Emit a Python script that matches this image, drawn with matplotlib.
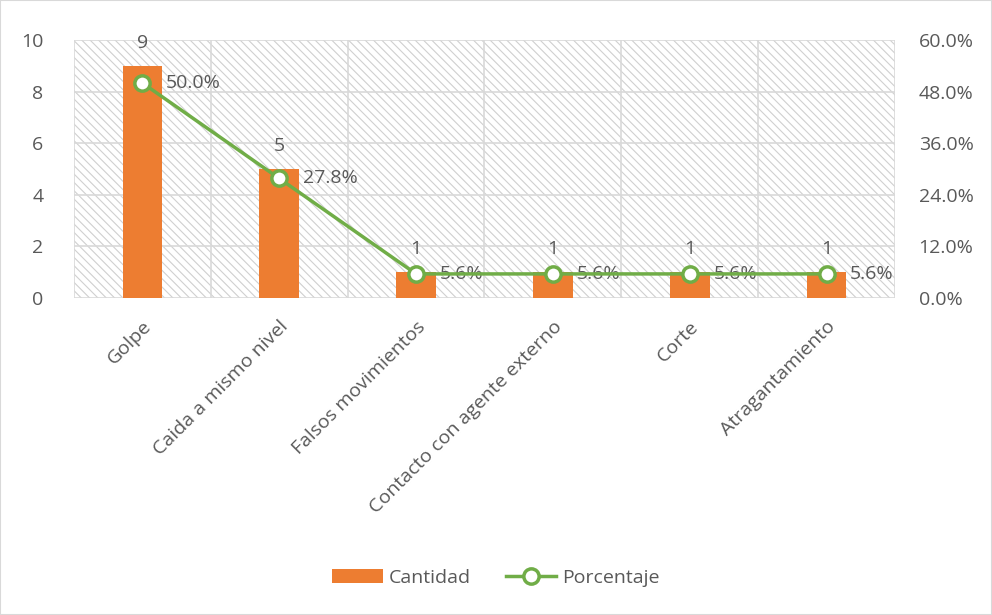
import matplotlib.pyplot as plt
import matplotlib.patches as mpatches
import numpy as np

plt.rcParams['font.family'] = ['Open Sans', 'DejaVu Sans']
plt.rcParams['hatch.linewidth'] = 0.8

# Data
categorias = ['Golpe', 'Caida a mismo nivel', 'Falsos movimientos',
              'Contacto con agente externo', 'Corte', 'Atragantamiento']
cantidad = [9, 5, 1, 1, 1, 1]
porcentaje = [50.0, 27.8, 5.6, 5.6, 5.6, 5.6]

txt = '#595959'
grid = '#d9d9d9'
orange = '#ed7d31'
green = '#70ad47'
fs = 14

fig = plt.figure(figsize=(9.92, 6.15), dpi=100)
ax = fig.add_axes([74 / 992, 1 - 298 / 615, 821 / 992, 258 / 615])
x = np.arange(len(categorias))

# Hatched background
bg = mpatches.Rectangle((0, 0), 1, 1, transform=ax.transAxes, facecolor='white',
                        edgecolor='#d0d0d0', lw=0, hatch='\\\\\\\\', zorder=0)
ax.add_patch(bg)

bars = ax.bar(x, cantidad, 0.29, color=orange, zorder=3, label='Cantidad')
ax.set_xlim(-0.5, len(categorias) - 0.5)
ax.set_ylim(0, 10)
ax.set_yticks(range(0, 11, 2))

for xv in np.arange(-0.5, len(categorias), 1):
    ax.axvline(xv, color=grid, lw=1.2, zorder=1)
for yv in range(0, 11, 2):
    ax.axhline(yv, color=grid, lw=1.2, zorder=1)

for b, v in zip(bars, cantidad):
    ax.annotate(f'{v}', xy=(b.get_x() + b.get_width() / 2, v), xytext=(0, 10),
                textcoords='offset points', ha='center', va='bottom', fontsize=fs, color=txt)

ax.set_xticks(x)
ax.set_xticklabels(categorias, rotation=45, ha='right', rotation_mode='anchor',
                   fontsize=fs, color=txt)
ax.tick_params(axis='x', length=0, pad=14)
ax.tick_params(axis='y', length=0, labelsize=fs, labelcolor=txt, pad=22)
for s in ax.spines.values():
    s.set_visible(False)

ax2 = ax.twinx()
line, = ax2.plot(x, porcentaje, color=green, lw=2.5, marker='o', markersize=11,
                 markerfacecolor='white', markeredgecolor=green, markeredgewidth=2.5,
                 zorder=5, label='Porcentaje')
ax2.set_ylim(0, 60)
ax2.set_yticks(np.arange(0, 61, 12))
ax2.set_yticklabels([f'{v:.1f}%' for v in np.arange(0, 61, 12)])
ax2.tick_params(axis='y', length=0, labelsize=fs, labelcolor=txt, pad=17)
for s in ax2.spines.values():
    s.set_visible(False)

for xv, p in zip(x, porcentaje):
    ax2.annotate(f'{p:.1f}%', xy=(xv, p), xytext=(17, 0), textcoords='offset points',
                 ha='left', va='center', fontsize=fs, color=txt)

fig.legend(handles=[bars, line], labels=['Cantidad', 'Porcentaje'], loc='center',
           bbox_to_anchor=(0.5, 1 - 578 / 615), ncol=2, frameon=False,
           fontsize=fs, labelcolor=txt, handlelength=2.6, handletextpad=0.3,
           columnspacing=1.8)

# Outer border
fig.patches.append(mpatches.Rectangle((0, 0), 1, 1, transform=fig.transFigure,
                                      fill=False, edgecolor=grid, lw=1.5))

fig.savefig('out.png', dpi=100)
